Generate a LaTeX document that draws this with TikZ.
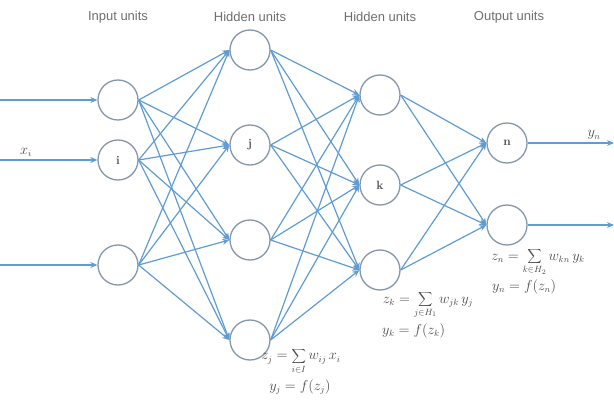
\documentclass[tikz,border=0pt]{standalone}
\usepackage{fontspec}
\newfontfamily\headfont{Liberation Sans}
\usepackage{xcolor}
\definecolor{cLink}{HTML}{5E9CD3}
\definecolor{cUnit}{HTML}{8797AB}
\definecolor{cText}{HTML}{4A4A4A}
\usepackage{tikz}
\usetikzlibrary{arrows.meta}
\tikzset{
  node-unit/.style={draw=cUnit,line width=1.3pt,circle,minimum size=40pt,inner sep=0pt,
    font=\fontsize{12}{14}\selectfont\bfseries,text=cText},
  node-head/.style={font=\headfont\fontsize{13}{15}\selectfont,text=cText!80},
  node-eq/.style={font=\fontsize{13.5}{15}\selectfont,text=cText,inner sep=0pt},
  arrow/.style={-{Stealth[length=7pt,width=6pt]},draw=cLink,line width=1.2pt},
}

\begin{document}
\begin{tikzpicture}[x=1pt,y=-1pt]
  \useasboundingbox (0,0) rectangle (614,404);
  % column headings
  \node[node-head] (h-in) at (118,17) {Input units};
  \node[node-head] (h-ha) at (250,17) {Hidden units};
  \node[node-head] (h-hb) at (380,17) {Hidden units};
  \node[node-head] (h-out) at (509,17) {Output units};

  % units
  \node[node-unit] (in1) at (118,100) {};
  \node[node-unit] (in2) at (118,160) {i};
  \node[node-unit] (in3) at (118,265) {};
  \node[node-unit] (ha1) at (250,50) {};
  \node[node-unit] (ha2) at (250,145) {j};
  \node[node-unit] (ha3) at (250,240) {};
  \node[node-unit] (ha4) at (250,340) {};
  \node[node-unit] (hb1) at (380,95) {};
  \node[node-unit] (hb2) at (380,185) {k};
  \node[node-unit] (hb3) at (380,270) {};
  \node[node-unit] (out1) at (507,143) {n};
  \node[node-unit] (out2) at (507,225) {};

  % free ends
  \coordinate (src1) at (0,100);
  \coordinate (src2) at (0,160);
  \coordinate (src3) at (0,265);
  \coordinate (dst1) at (614,143);
  \coordinate (dst2) at (614,225);

  % connections
  \foreach \s in {1,2,3} {
    \draw[arrow] (src\s) -- (in\s.west);
    \foreach \t in {1,...,4}
      \draw[arrow] (in\s.east) -- (ha\t.west);
  }
  \foreach \s in {1,...,4}
    \foreach \t in {1,2,3}
      \draw[arrow] (ha\s.east) -- (hb\t.west);
  \foreach \s in {1,2,3}
    \foreach \t in {1,2}
      \draw[arrow] (hb\s.east) -- (out\t.west);
  \draw[arrow] (out1.east) -- (dst1);
  \draw[arrow] (out2.east) -- (dst2);

  \node[node-eq,above=3pt] (lbl-x) at (26,160) {$x_i$};
  \node[node-eq,above=3pt] (lbl-y) at (594,143) {$y_n$};

  % unit equations
  \node[node-eq] (eq-ha) at (301,361) {$z_j = \displaystyle\sum_{i\in I} w_{ij}\,x_i$};
  \node[node-eq] (fn-ha) at (300,387) {$y_j = f(z_j)$};
  \node[node-eq] (eq-hb) at (428,305) {$z_k = \displaystyle\sum_{j\in H_1} w_{jk}\,y_j$};
  \node[node-eq,anchor=west] (fn-hb) at (382,331) {$y_k = f(z_k)$};
  \node[node-eq] (eq-out) at (538,262) {$z_n = \displaystyle\sum_{k\in H_2} w_{kn}\,y_k$};
  \node[node-eq,anchor=west] (fn-out) at (492,287) {$y_n = f(z_n)$};
\end{tikzpicture}
\end{document}
